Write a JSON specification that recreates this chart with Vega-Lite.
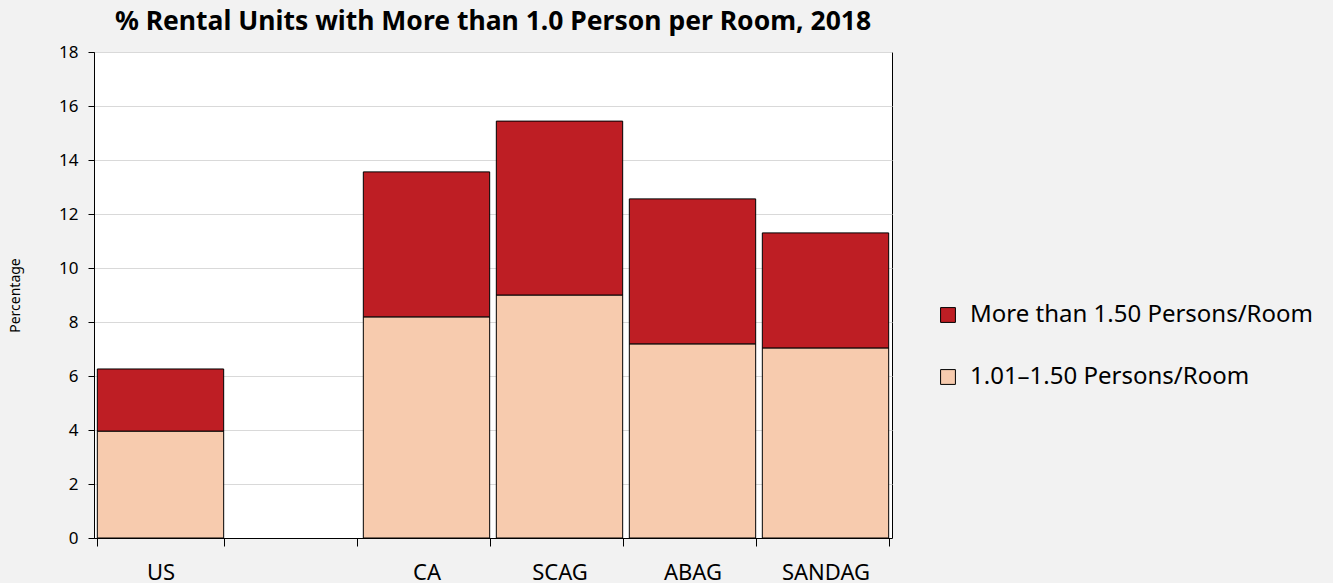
{
  "$schema": "https://vega.github.io/schema/vega-lite/v6.json",
  "autosize": "none",
  "padding": {"left": 94, "top": 52, "right": 441, "bottom": 45},
  "width": 798,
  "height": 486,
  "background": "#f2f2f2",
  "title": {
    "text": "% Rental Units with More than 1.0 Person per Room, 2018",
    "font": "Noto Sans",
    "fontSize": 26.5,
    "fontWeight": "bold",
    "color": "#000000",
    "anchor": "middle",
    "offset": 8
  },
  "config": {
    "view": {"fill": "#ffffff", "stroke": "#000000", "strokeWidth": 1},
    "font": "Noto Sans"
  },
  "data": {
    "values": [
      {"region": "US", "type": "1.01–1.50 Persons/Room", "value": 3.96, "ord": 1},
      {"region": "US", "type": "More than 1.50 Persons/Room", "value": 2.3, "ord": 2},
      {"region": "CA", "type": "1.01–1.50 Persons/Room", "value": 8.19, "ord": 1},
      {"region": "CA", "type": "More than 1.50 Persons/Room", "value": 5.37, "ord": 2},
      {"region": "SCAG", "type": "1.01–1.50 Persons/Room", "value": 9.0, "ord": 1},
      {"region": "SCAG", "type": "More than 1.50 Persons/Room", "value": 6.44, "ord": 2},
      {"region": "ABAG", "type": "1.01–1.50 Persons/Room", "value": 7.19, "ord": 1},
      {"region": "ABAG", "type": "More than 1.50 Persons/Room", "value": 5.37, "ord": 2},
      {"region": "SANDAG", "type": "1.01–1.50 Persons/Room", "value": 7.04, "ord": 1},
      {"region": "SANDAG", "type": "More than 1.50 Persons/Room", "value": 4.26, "ord": 2}
    ]
  },
  "mark": {"type": "bar", "stroke": "#000000", "strokeWidth": 1},
  "encoding": {
    "x": {
      "field": "region",
      "type": "nominal",
      "scale": {"domain": ["US", " ", "CA", "SCAG", "ABAG", "SANDAG"], "paddingInner": 0.05, "paddingOuter": 0.025},
      "axis": {
        "title": null,
        "labelAngle": 0,
        "labelFontSize": 22,
        "labelColor": "#000000",
        "labelPadding": 16,
        "tickBand": "extent",
        "tickColor": "#000000",
        "tickSize": 8,
        "domainColor": "#000000",
        "grid": false
      }
    },
    "y": {
      "field": "value",
      "type": "quantitative",
      "stack": "zero",
      "scale": {"domain": [0, 18], "nice": false},
      "axis": {
        "title": "Percentage",
        "titleFontSize": 14,
        "titleFontWeight": "normal",
        "titleColor": "#000000",
        "titlePadding": 36,
        "values": [0, 2, 4, 6, 8, 10, 12, 14, 16, 18],
        "labelFontSize": 17,
        "labelColor": "#000000",
        "labelPadding": 10,
        "tickColor": "#000000",
        "tickSize": 6,
        "domainColor": "#000000",
        "gridColor": "#d9d9d9",
        "gridWidth": 1
      }
    },
    "color": {
      "field": "type",
      "type": "nominal",
      "scale": {
        "domain": ["More than 1.50 Persons/Room", "1.01–1.50 Persons/Room"],
        "range": ["#be1e24", "#f7cbae"]
      },
      "legend": {
        "title": null,
        "orient": "none",
        "legendX": 842,
        "legendY": 251,
        "symbolType": "square",
        "symbolSize": 220,
        "symbolStrokeColor": "#000000",
        "symbolStrokeWidth": 1,
        "labelFontSize": 24,
        "labelColor": "#000000",
        "labelOffset": 10,
        "labelLimit": 0,
        "rowPadding": 38
      }
    },
    "order": {"field": "ord", "type": "quantitative"}
  }
}
